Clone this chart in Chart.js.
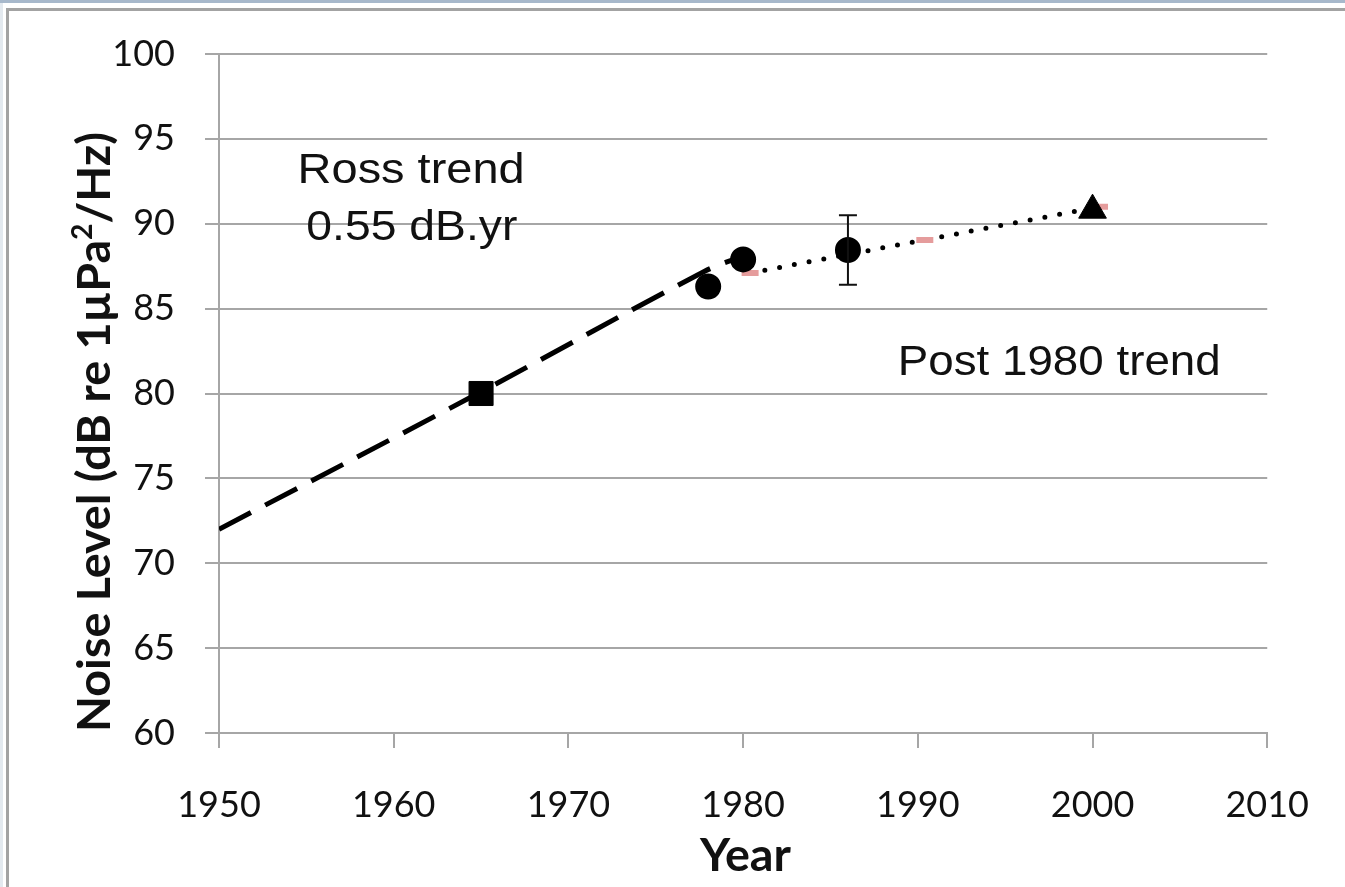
<!DOCTYPE html>
<html>
<head>
<meta charset="utf-8">
<script src="https://cdn.jsdelivr.net/npm/chart.js@4.4.1/dist/chart.umd.min.js"></script>
<style>
  html, body { margin: 0; padding: 0; background: #fff; overflow: hidden; }
  #wrap { position: relative; width: 1345px; height: 887px; }
  .band { position: absolute; left: 0; top: 0; width: 1345px; height: 3px; background: #a7b8cb; }
  .side { position: absolute; left: 0; top: 3px; width: 3px; height: 884px; background: #e3e9ef; }
  .frame { position: absolute; left: 6px; top: 8px; right: 0; bottom: 0;
           border-top: 3px solid #a3a3a3; border-left: 3px solid #a3a3a3; }
  canvas { position: absolute; left: 0; top: 0; }
</style>
</head>
<body>
<div id="wrap">
  <div class="band"></div>
  <div class="side"></div>
  <div class="frame"></div>
  <canvas id="noiseChart" width="1345" height="887"></canvas>
</div>
<script>
// Ross trend (dashed)
const ROSS_YEARS = [1950, 1965, 1977.8, 1980];
const ROSS_LEVELS = [72, 80.1, 87.2, 88.1];

// Post 1980 trend (dotted, pink dash markers)
const POST_YEARS = [1980.4, 1990.4, 2000.4];
const POST_LEVELS = [87.1, 89.05, 91.0];

// Measurements
const CIRCLE_YEARS = [1978, 1980, 1986];
const CIRCLE_LEVELS = [86.3, 87.9, 88.45];
const CIRCLE_ERR_LOW = [null, null, 86.4];
const CIRCLE_ERR_HIGH = [null, null, 90.5];

const SQUARE_YEARS = [1965];
const SQUARE_LEVELS = [80];

const TRIANGLE_YEARS = [2000];
const TRIANGLE_LEVELS = [90.8];

const X_TICKS = [1950, 1960, 1970, 1980, 1990, 2000, 2010];
const Y_TICKS = [60, 65, 70, 75, 80, 85, 90, 95, 100];

const Y_TITLE = ["Noise Level (dB re 1\u00b5Pa", "2", "/Hz)"];
const X_TITLE = "Year";

// text notes placed in data units
const NOTES = [
  { text: "Ross trend", year: 1954.5, level: 92.4, width: 227 },
  { text: "0.55 dB.yr", year: 1955.0, level: 89.04, width: 211 },
  { text: "Post 1980 trend", year: 1988.85, level: 81.09, width: 323 },
];

const GRID = "#a6a6a6";
const INK = "#111";

const pts = (xs, ys) => xs.map((x, i) => ({ x, y: ys[i] }));

function drawParts(ctx, parts, targetWidth, scaleOverride) {
  let natural = 0;
  for (const p of parts) {
    ctx.font = p.font;
    natural += ctx.measureText(p.text).width;
  }
  const sx = scaleOverride || targetWidth / natural;
  ctx.scale(sx, 1);
  let x = 0;
  for (const p of parts) {
    ctx.font = p.font;
    ctx.fillText(p.text, x, p.dy || 0);
    x += ctx.measureText(p.text).width;
  }
  return sx;
}

const extrasPlugin = {
  id: "extras",
  afterDatasetsDraw(chart) {
    const { ctx, scales } = chart;
    const xs = scales.x, ys = scales.y;

    // error bars
    ctx.save();
    ctx.strokeStyle = INK;
    ctx.lineWidth = 2;
    CIRCLE_YEARS.forEach((yr, i) => {
      if (CIRCLE_ERR_LOW[i] == null) return;
      const px = xs.getPixelForValue(yr);
      const lo = ys.getPixelForValue(CIRCLE_ERR_LOW[i]);
      const hi = ys.getPixelForValue(CIRCLE_ERR_HIGH[i]);
      ctx.beginPath();
      ctx.moveTo(px, lo); ctx.lineTo(px, hi);
      ctx.moveTo(px - 9, lo); ctx.lineTo(px + 9, lo);
      ctx.moveTo(px - 9, hi); ctx.lineTo(px + 9, hi);
      ctx.stroke();
    });
    ctx.restore();
  },
  afterDraw(chart) {
    const { ctx, scales, chartArea } = chart;
    ctx.save();
    ctx.fillStyle = INK;
    ctx.textBaseline = "alphabetic";
    ctx.textAlign = "left";

    // notes
    for (const n of NOTES) {
      ctx.save();
      ctx.translate(scales.x.getPixelForValue(n.year), scales.y.getPixelForValue(n.level));
      drawParts(ctx, [{ text: n.text, font: "43px 'Liberation Sans', Arial, sans-serif" }], n.width);
      ctx.restore();
    }

    // y title
    ctx.save();
    ctx.translate(110, chartArea.bottom - 1);
    ctx.rotate(-Math.PI / 2);
    const sx = drawParts(ctx, [
      { text: Y_TITLE[0], font: "bold 46px Lato, sans-serif" },
      { text: Y_TITLE[1], font: "bold 28px Lato, sans-serif", dy: -18 },
      { text: Y_TITLE[2], font: "bold 46px Lato, sans-serif" },
    ], 600);
    ctx.restore();

    // x title
    ctx.save();
    ctx.translate(700, chartArea.bottom + 138);
    drawParts(ctx, [{ text: X_TITLE, font: "bold 46px Lato, sans-serif" }], 0, sx);
    ctx.restore();

    ctx.restore();
  },
};

const ctx = document.getElementById("noiseChart").getContext("2d");

new Chart(ctx, {
  type: "scatter",
  data: {
    datasets: [
      {
        label: "circles",
        data: pts(CIRCLE_YEARS, CIRCLE_LEVELS),
        showLine: false,
        pointStyle: "circle",
        pointRadius: 12,
        pointBackgroundColor: "#000",
        pointBorderColor: "#000",
        pointBorderWidth: 2,
      },
      {
        label: "square",
        data: pts(SQUARE_YEARS, SQUARE_LEVELS),
        showLine: false,
        pointStyle: "rect",
        pointRadius: 17,
        pointBackgroundColor: "#000",
        pointBorderColor: "#000",
        pointBorderWidth: 1,
      },
      {
        label: "triangle",
        data: pts(TRIANGLE_YEARS, TRIANGLE_LEVELS),
        showLine: false,
        pointStyle: "triangle",
        pointRadius: 16,
        pointBackgroundColor: "#000",
        pointBorderColor: "#000",
        pointBorderWidth: 1,
      },
      {
        label: "Post 1980 trend",
        data: pts(POST_YEARS, POST_LEVELS),
        showLine: true,
        borderColor: "#000",
        borderWidth: 5,
        borderDash: [0, 15],
        borderCapStyle: "round",
        pointStyle: "line",
        pointRadius: 8.5,
        pointBorderWidth: 6,
        pointBorderColor: "#e59c9c",
        pointBackgroundColor: "#e59c9c",
      },
      {
        label: "Ross trend",
        data: pts(ROSS_YEARS, ROSS_LEVELS),
        showLine: true,
        borderColor: "#000",
        borderWidth: 5,
        borderDash: [36, 16],
        tension: 0.35,
        pointRadius: 0,
      },
    ],
  },
  options: {
    responsive: false,
    animation: false,
    events: [],
    layout: { padding: { left: 0, top: 54, right: 74, bottom: 0 } },
    plugins: {
      legend: { display: false },
      tooltip: { enabled: false },
    },
    scales: {
      x: {
        type: "linear",
        min: 1950,
        max: 2010,
        afterFit: (s) => { s.height = 154; },
        afterBuildTicks: (s) => { s.ticks = X_TICKS.map((v) => ({ value: v })); },
        grid: {
          drawOnChartArea: false,
          drawTicks: true,
          tickLength: 15,
          color: GRID,
          lineWidth: 2,
        },
        border: { display: true, color: GRID, width: 2 },
        ticks: {
          padding: 36,
          maxRotation: 0,
          color: INK,
          font: { family: "Lato", size: 36 },
          callback: (v) => String(v),
        },
      },
      y: {
        type: "linear",
        min: 60,
        max: 100,
        afterFit: (s) => { s.width = 219; },
        afterBuildTicks: (s) => { s.ticks = Y_TICKS.map((v) => ({ value: v })); },
        grid: {
          drawTicks: true,
          tickLength: 14,
          color: GRID,
          lineWidth: 2,
        },
        border: { display: true, color: GRID, width: 2 },
        ticks: {
          padding: 30,
          color: INK,
          font: { family: "Lato", size: 36 },
          callback: (v) => String(v),
        },
      },
    },
  },
  plugins: [extrasPlugin],
});
</script>
</body>
</html>
